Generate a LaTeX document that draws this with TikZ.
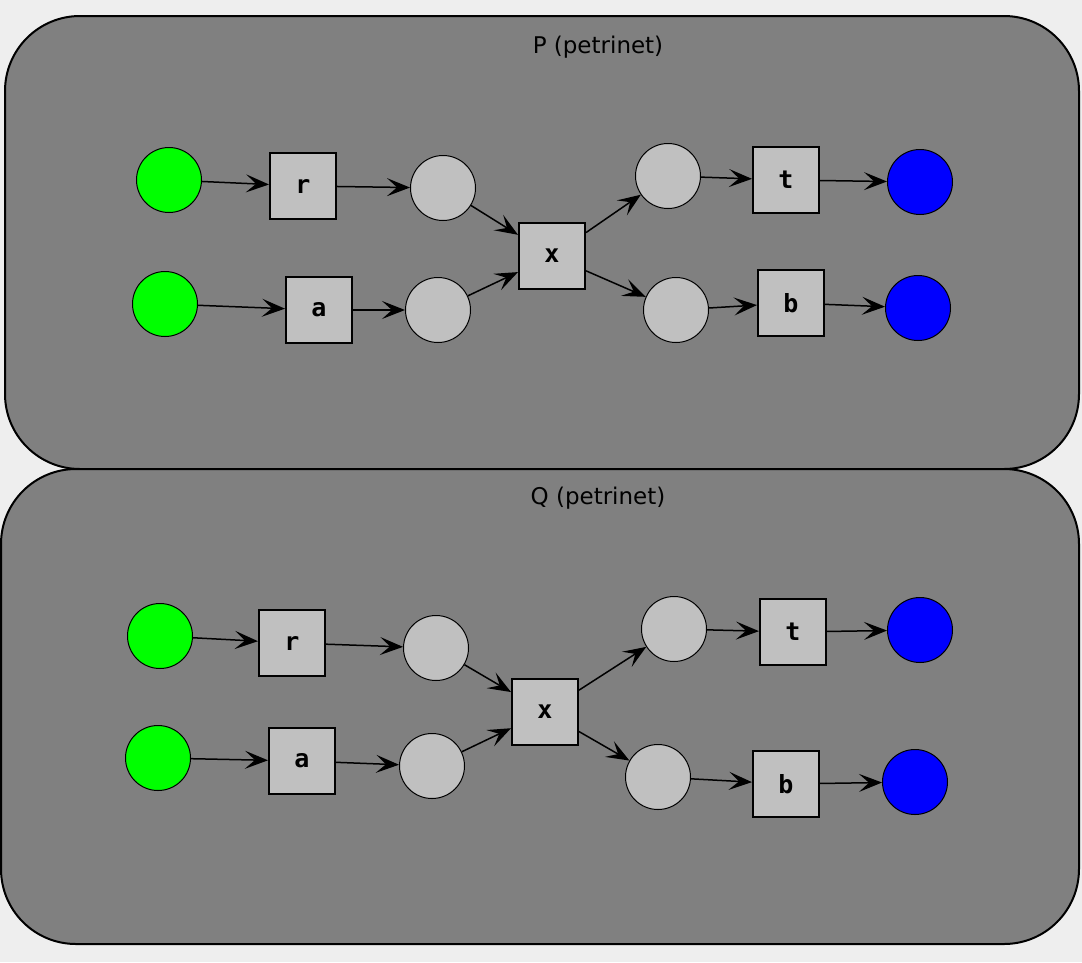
\documentclass[tikz,border=0pt]{standalone}
\usepackage{fontspec}
\setmainfont{DejaVu Sans}
\newfontfamily\netmono{DejaVu Sans Mono}
\usepackage{tikz}
\usetikzlibrary{arrows.meta}
\definecolor{canvasgray}{HTML}{EEEEEE}
\definecolor{netgray}{HTML}{808080}
\definecolor{placegray}{HTML}{C0C0C0}
\definecolor{startgreen}{HTML}{00FF00}
\definecolor{endblue}{HTML}{0000FF}

\begin{document}
\begin{tikzpicture}[x=1pt, y=-1pt,
    netbox/.style={draw=black, line width=2pt, fill=netgray, rounded corners=75pt},
    nettitle/.style={font=\fontsize{23}{27}\selectfont},
    place/.style={circle, draw=black, line width=1pt, fill=placegray, minimum size=65pt, inner sep=0pt},
    startplace/.style={place, fill=startgreen},
    endplace/.style={place, fill=endblue},
    trans/.style={rectangle, draw=black, line width=2pt, fill=placegray, minimum size=66pt, inner sep=0pt,
        font=\netmono\bfseries\fontsize{25}{29}\selectfont},
    netarc/.style={-{Stealth[length=23pt, width=18pt, inset=10pt]}, line width=1.5pt}]
    % Canvas
    \fill[canvasgray] (0,0) rectangle (1082,962);
    \useasboundingbox (0,0) rectangle (1082,962);

    % Net boxes
    \draw[netbox] (5,16) rectangle (1079,469);
    \draw[netbox] (1,469) rectangle (1079,944);
    \node[nettitle] (ptitle) at (598,47) {P (petrinet)};
    \node[nettitle] (qtitle) at (598,498) {Q (petrinet)};

    % P net
    \node[startplace] (pg1) at (169,180) {};
    \node[startplace] (pg2) at (165,304) {};
    \node[trans] (pr) at (303,186) {r};
    \node[trans] (pa) at (319,310) {a};
    \node[place] (pp1) at (443,188) {};
    \node[place] (pp2) at (438,310) {};
    \node[trans] (px) at (552,256) {x};
    \node[place] (pp3) at (668,176) {};
    \node[place] (pp4) at (676,310) {};
    \node[trans] (pt) at (786,180) {t};
    \node[trans] (pb) at (791,303) {b};
    \node[endplace] (pe1) at (920,182) {};
    \node[endplace] (pe2) at (918,308) {};

    % Q net
    \node[startplace] (qg1) at (160,636) {};
    \node[startplace] (qg2) at (158,758) {};
    \node[trans] (qr) at (292,643) {r};
    \node[trans] (qa) at (302,761) {a};
    \node[place] (qp1) at (436,648) {};
    \node[place] (qp2) at (432,766) {};
    \node[trans] (qx) at (545,712) {x};
    \node[place] (qp3) at (674,629) {};
    \node[place] (qp4) at (658,777) {};
    \node[trans] (qt) at (793,632) {t};
    \node[trans] (qb) at (786,784) {b};
    \node[endplace] (qe1) at (920,630) {};
    \node[endplace] (qe2) at (915,782) {};

    % Arcs
    \foreach \n in {p,q} {
        \draw[netarc] (\n g1) -- (\n r);
        \draw[netarc] (\n r) -- (\n p1);
        \draw[netarc] (\n p1) -- (\n x);
        \draw[netarc] (\n g2) -- (\n a);
        \draw[netarc] (\n a) -- (\n p2);
        \draw[netarc] (\n p2) -- (\n x);
        \draw[netarc] (\n x) -- (\n p3);
        \draw[netarc] (\n x) -- (\n p4);
        \draw[netarc] (\n p3) -- (\n t);
        \draw[netarc] (\n p4) -- (\n b);
        \draw[netarc] (\n t) -- (\n e1);
        \draw[netarc] (\n b) -- (\n e2);
    }
\end{tikzpicture}
\end{document}
